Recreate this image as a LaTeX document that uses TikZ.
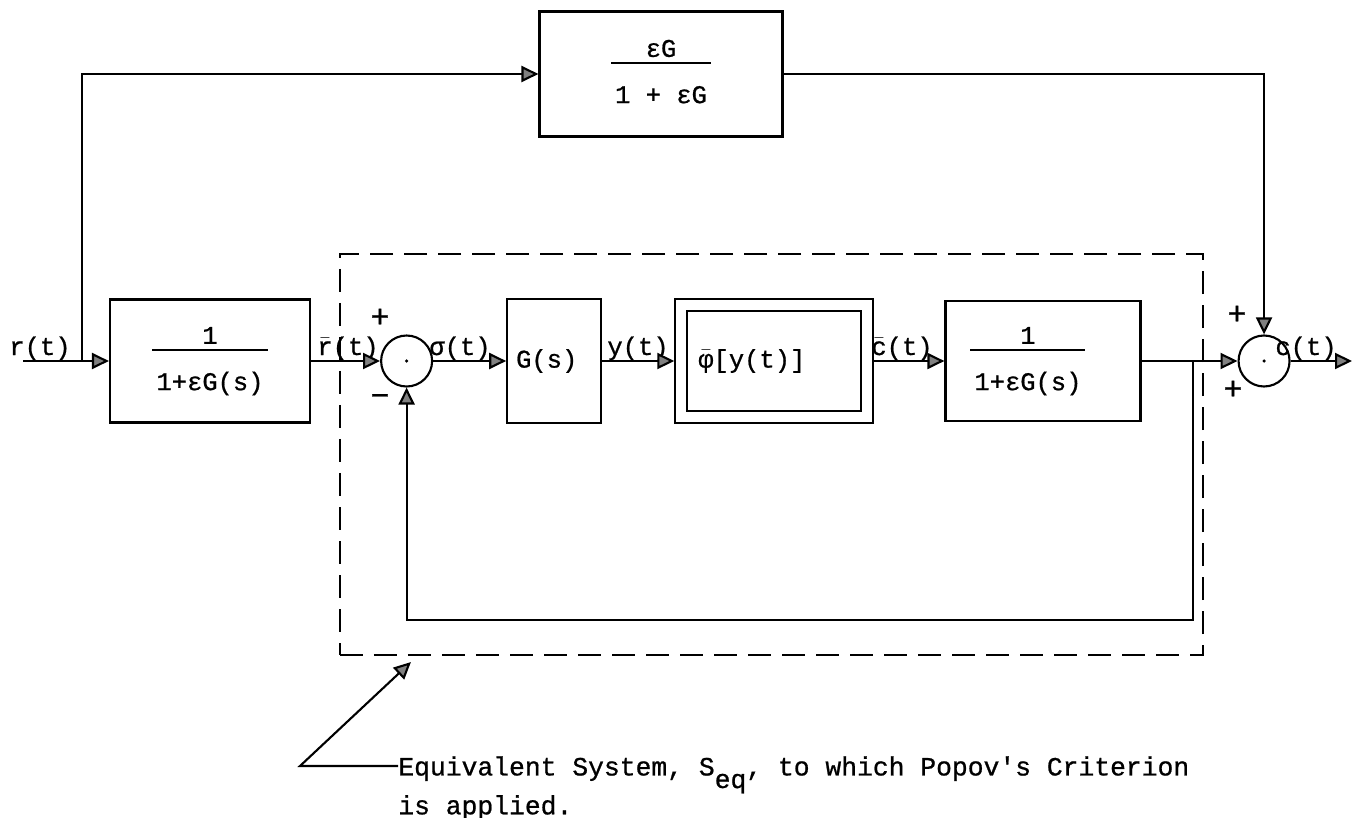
\documentclass[tikz,border=0pt]{standalone}
\usepackage{fontspec}
\setmonofont{Liberation Mono}[FakeBold=0.8]
\usetikzlibrary{arrows.meta, positioning, calc}

\setlength{\arrayrulewidth}{1pt}
\newcommand{\blockfrac}[2]{\begin{tabular}{@{\hspace{0.8mm}}c@{\hspace{0.8mm}}}#1\\[-2pt]\hline\rule{0pt}{2.9ex}#2\end{tabular}}
\newcommand{\barred}[1]{\ensuremath{\bar{\mbox{#1}}}}

\begin{document}
\begin{tikzpicture}[
    x=0.2mm, y=-0.2mm,
    font=\ttfamily\fontsize{14.5}{17}\selectfont,
    % Node styles
    block/.style={
        rectangle, draw, line width=1.2pt,
        minimum height=24.6mm, inner sep=1pt,
    },
    sum/.style={
        circle, draw, line width=1.2pt,
        minimum size=10.2mm, inner sep=0pt,
    },
    equiv/.style={
        rectangle, draw, line width=1.2pt,
        dash pattern=on 4.6mm off 2.2mm,
        minimum width=172.6mm, minimum height=80.2mm,
    },
    signal/.style={anchor=base, inner sep=0pt},
    sign/.style={font=\ttfamily\fontsize{18}{18}\selectfont, inner sep=0pt},
    note/.style={
        font=\ttfamily\fontsize{15}{16.6}\selectfont, align=left, inner sep=0pt,
    },
    wire/.style={draw, line width=1.2pt},
    line/.style={
        draw, line width=1.2pt,
        -{Triangle[length=3.4mm, width=3.2mm, fill=black!50]},
    },
]
\useasboundingbox (0,0) rectangle (1358,818);

% === Main loop blocks ===
\node[block, minimum width=40mm] (pre) at (210,361) {\blockfrac{1}{1+εG(s)}};
\node[sum, right=13.8mm of pre] (sumA) {};
\node[block, minimum width=18.8mm, minimum height=24.8mm, right=14.6mm of sumA] (plant) {G(s)\hspace*{3mm}};
\node[block, minimum width=39.6mm, minimum height=24.8mm, right=14.4mm of plant] (nonlin) {};
\node[block, minimum width=34.8mm, minimum height=20mm] (nlcore) at (nonlin) {\barred{φ}[y(t)]\hspace*{9mm}};
\node[block, minimum width=39mm, minimum height=24mm, right=14mm of nonlin] (post) {\blockfrac{1}{1+εG(s)}\hspace*{6mm}};
\node[sum, right=19.2mm of post] (sumB) {};
\fill (sumA) circle (1pt);
\fill (sumB) circle (1pt);

% === Feed-forward block ===
\node[block, minimum width=48.6mm, minimum height=25mm] (ff) at (661,74) {\blockfrac{εG}{1 + εG}};

% === Equivalent system ===
\node[equiv] (seq) at (771.5,454.5) {};

% === Branch points ===
\coordinate (in) at (23,361);
\coordinate (split) at (82,361);
\coordinate (out) at (1352,361);
\coordinate (tap) at (1193,361);
\coordinate (loop) at (1193,620);

% === Signal labels ===
\node[signal] (rlab) at (40,355) {r(t)};
\node[signal] (rbarlab) at (348,355) {\barred{r}(t)};
\node[signal] (sigmalab) at (460,355) {σ(t)};
\node[signal] (ylab) at (638,355) {y(t)};
\node[signal] (cbarlab) at (902,355) {\barred{c}(t)};
\node[signal] (clab) at (1306,355) {c(t)};

% === Signs at the summing points ===
\node[sign] (plusA) at (380,318) {+};
\node[sign] (minusA) at (380,400) {−};
\node[sign] (plusB) at (1237,315) {+};
\node[sign] (plusC) at (1233,390) {+};

% === Connectors ===
\draw[wire] (in) -- (split);
\draw[line] (split) -- (pre);
\draw[line] (split) |- (ff);
\draw[line] (ff) -| (sumB);
\draw[line] (pre) -- (sumA);
\draw[line] (sumA) -- (plant);
\draw[line] (plant) -- (nonlin);
\draw[line] (nonlin) -- (post);
\draw[line] (post) -- (sumB);
\draw[line] (sumB) -- (out);
\draw[line] (tap) -- (loop) -| (sumA);

% === Annotation ===
\coordinate (kink) at (300,766);
\node[note, anchor=north west] (note) at (398,756)
    {Equivalent System, S\raisebox{-0.9ex}{eq}, to which Popov's Criterion\\is applied.};
\draw[line] (note.west |- kink) -- (kink) -- ($(seq.south west)+(72,6)$);

\end{tikzpicture}
\end{document}
